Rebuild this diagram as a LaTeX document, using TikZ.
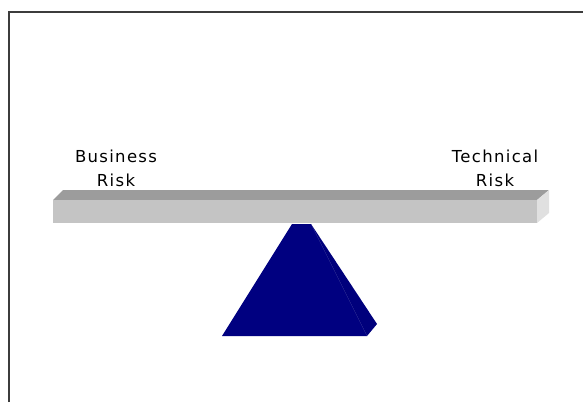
\documentclass[tikz,border=0pt]{standalone}
\usepackage{fontspec}
\setmainfont{DejaVu Sans}[LetterSpace=8]
\definecolor{frameclr}{HTML}{3C3C3C}
\definecolor{beamtop}{HTML}{9C9C9C}
\definecolor{beamfront}{HTML}{C4C4C4}
\definecolor{beamside}{HTML}{E0E0E0}
\definecolor{pyrfront}{HTML}{000080}
\definecolor{pyrside}{HTML}{00007C}
\tikzset{
  risklabel/.style={align=center, font=\fontsize{16.5}{24}\selectfont, text=black, inner sep=0pt},
}
\begin{document}
\begin{tikzpicture}[x=1pt,y=-1pt]
\useasboundingbox (0,0) rectangle (583,402);
% frame
\draw[frameclr, line width=2pt] (8.5,402) -- (8.5,11.5) -- (583,11.5);
% beam
\fill[beamtop] (53,200) -- (63,190) -- (549,190) -- (537,200) -- cycle;
\fill[beamfront] (53,200) -- (537,200) -- (537,223) -- (53,223) -- cycle;
\fill[beamside] (537,200) -- (549,190) -- (549,213) -- (537,223) -- cycle;
% fulcrum
\fill[pyrfront] (292,224) -- (311,224) -- (367,336) -- (222,336) -- cycle;
\fill[pyrside] (311,224) -- (377,324) -- (367,336) -- cycle;
% labels
\node[risklabel, anchor=base] (business) at (116,186) {Business\\Risk};
\node[risklabel, anchor=base] (technical) at (495,186) {Technical\\Risk};
\end{tikzpicture}
\end{document}
